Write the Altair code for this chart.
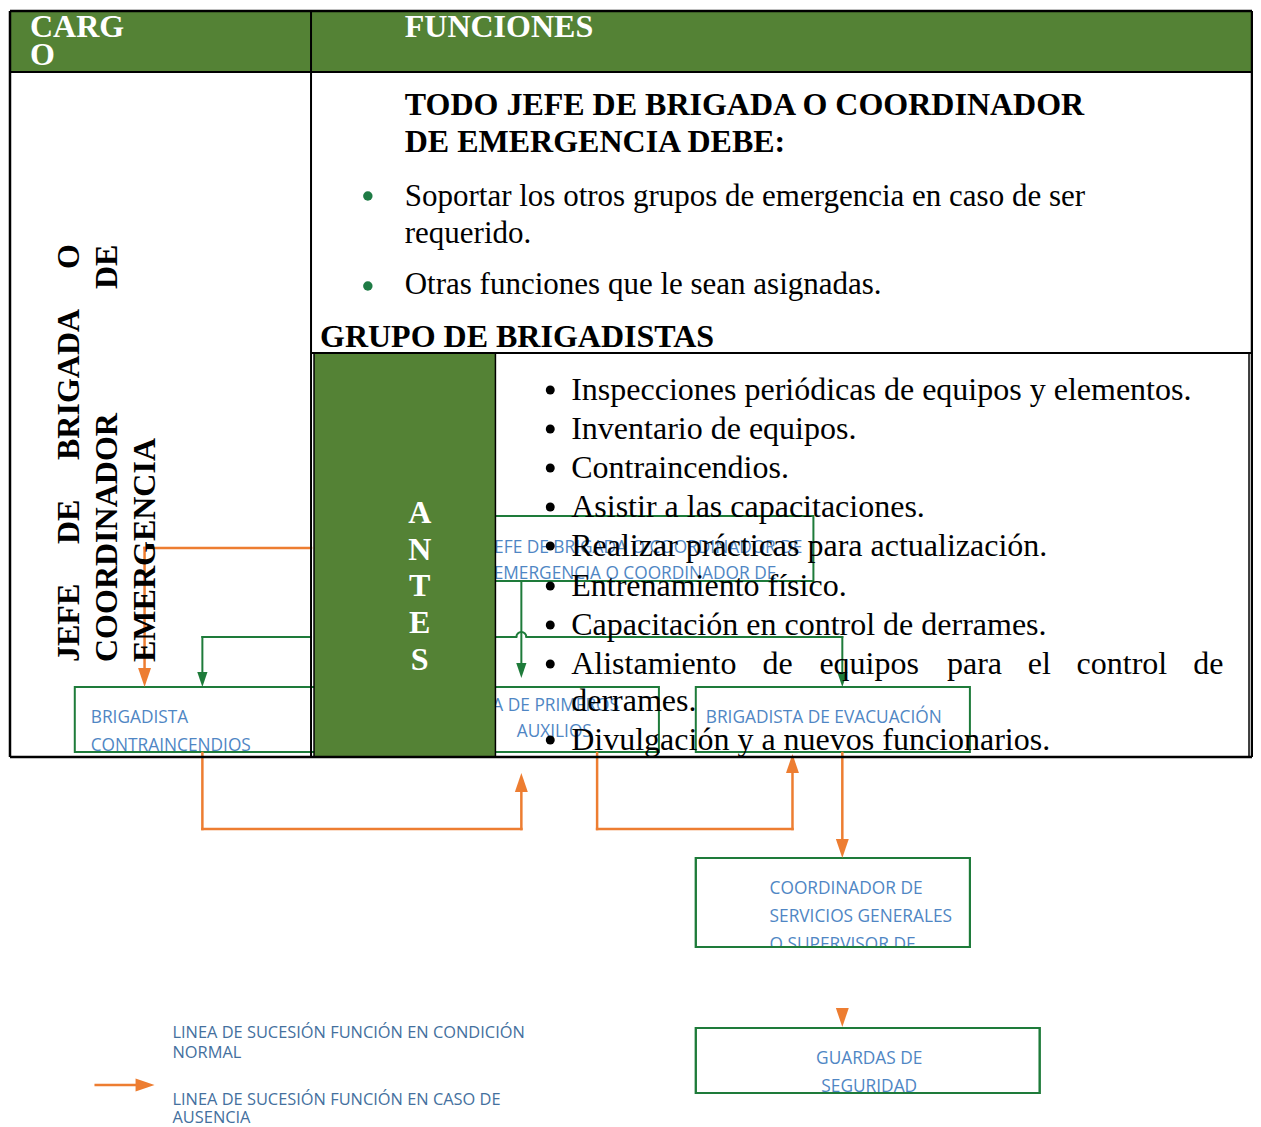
import altair as alt
import pandas as pd

# ---------------- text content ----------------
header_labels = ["CARG", "O", "FUNCIONES"]
jefe_title = ["TODO JEFE DE BRIGADA O COORDINADOR", "DE EMERGENCIA DEBE:"]
jefe_items = ["Soportar los otros grupos de emergencia en caso de ser",
              "requerido.",
              "Otras funciones que le sean asignadas."]
group_title = ["GRUPO DE BRIGADISTAS"]
antes_letters = ["A", "N", "T", "E", "S"]
antes_items = ["Inspecciones periódicas de equipos y elementos.",
               "Inventario de equipos.",
               "Contraincendios.",
               "Asistir a las capacitaciones.",
               "Realizar prácticas para actualización.",
               "Entrenamiento físico.",
               "Capacitación en control de derrames."]
antes_justified = ["Alistamiento", "de", "equipos", "para", "el", "control", "de"]
antes_tail = ["derrames.", "Divulgación y a nuevos funcionarios."]
cargo_words = [["JEFE", "DE", "BRIGADA", "O"], ["COORDINADOR", "DE"], ["EMERGENCIA"]]
box_labels = [
    ["JEFE DE BRIGADA O COORDINADOR DE", "EMERGENCIA O COORDINADOR DE"],
    ["BRIGADISTA", "CONTRAINCENDIOS"],
    ["BRIGADISTA DE PRIMEROS", "AUXILIOS"],
    ["BRIGADISTA DE EVACUACIÓN"],
    ["COORDINADOR DE", "SERVICIOS GENERALES", "O SUPERVISOR DE"],
    ["GUARDAS DE", "SEGURIDAD"],
]
legend_labels = ["LINEA DE SUCESIÓN FUNCIÓN EN CONDICIÓN", "NORMAL",
                 "LINEA DE SUCESIÓN FUNCIÓN EN CASO DE", "AUSENCIA"]

# ---------------- layout (page pixels) ----------------
header_pos = [(30, 37), (30, 65), (406, 37)]
jefe_title_pos = [(406, 115), (406, 152)]
jefe_items_pos = [(406, 206), (406, 243), (406, 294)]
green_bullet_y = [196, 286]
group_title_pos = [(321, 347)]
antes_letter_y = [523, 560, 596, 633, 670]
list_baselines = [400, 439, 478, 517, 556, 596, 635]
justified_x = [573, 765, 822, 950, 1031, 1080, 1197]
justified_y = 674
tail_pos = [(573, 711), (573, 750)]
cargo_x = [79, 117, 155]
cargo_bottoms = [[662, 544, 460, 269], [662, 289], [662]]

boxes = [  # x, x2, y, y2
    (485, 816, 516, 581),
    (75, 330, 687, 752),
    (440, 661, 687, 752),
    (698, 973, 687, 752),
    (698, 973, 858, 947),
    (698, 1043, 1028, 1093),
]
box_text_pos = [
    [(648, 553, "center"), (637, 579, "center")],
    [(91, 723, "left"), (91, 751, "left")],
    [(621, 711, "right"), (556, 737, "center")],
    [(708, 723, "left")],
    [(772, 894, "left"), (772, 922, "left"), (772, 950, "left")],
    [(872, 1064, "center"), (872, 1092, "center")],
]
legend_pos = [(173, 1038), (173, 1058), (173, 1105), (173, 1123)]

GREEN_FILL = "#548235"
LINE_GREEN = "#1e7b3a"
BULLET_GREEN = "#1e7b45"
ORANGE = "#ed7d31"
BOX_BLUE = "#4f86c4"
LEG_BLUE = "#44709e"
SERIF = "Liberation Serif"
SANS = "Open Sans"

W, H = 1245, 1119
OX, OY = 8, 8
XS = alt.Scale(domain=[OX, 1257], range=[0, W], nice=False, zero=False)
YS = alt.Scale(domain=[OY, OY + H], range=[0, H], nice=False, zero=False)


def X(f="x"):
    return alt.X(f"{f}:Q", scale=XS, axis=None)


def Y(f="y"):
    return alt.Y(f"{f}:Q", scale=YS, axis=None)


def rect_layer(rows):
    df = pd.DataFrame(rows, columns=["x", "x2", "y", "y2", "fill", "stroke", "sw"])
    return alt.Chart(df).mark_rect().encode(
        x=X("x"), x2=alt.X2("x2:Q"), y=Y("y"), y2=alt.Y2("y2:Q"),
        fill=alt.Fill("fill:N", scale=None),
        stroke=alt.Stroke("stroke:N", scale=None),
        strokeWidth=alt.StrokeWidth("sw:Q", scale=None),
    )


def rule_layer(rows, cap="square"):
    df = pd.DataFrame(rows, columns=["x", "y", "x2", "y2", "c", "w"])
    return alt.Chart(df).mark_rule(strokeCap=cap).encode(
        x=X("x"), x2=alt.X2("x2:Q"), y=Y("y"), y2=alt.Y2("y2:Q"),
        color=alt.Color("c:N", scale=None),
        strokeWidth=alt.StrokeWidth("w:Q", scale=None),
    )


def text_layer(rows, align="left", **props):
    df = pd.DataFrame(rows, columns=["x", "y", "t"])
    return alt.Chart(df).mark_text(align=align, baseline="alphabetic", **props).encode(
        x=X("x"), y=Y("y"), text="t:N"
    )


ARROW = "M-0.68,-1L0.68,-1L0,1Z"


def arrow_layer(rows):
    # rows: tip_x, tip_y, direction, color, length
    recs = []
    for tx, ty, d, c, ln in rows:
        dx, dy, a = {"down": (0, 1, 0), "up": (0, -1, 180), "right": (1, 0, 270)}[d]
        recs.append({"x": tx - dx * ln / 2, "y": ty - dy * ln / 2, "a": a,
                     "c": c, "s": ln * ln, "p": ARROW})
    df = pd.DataFrame(recs)
    return alt.Chart(df).mark_point(filled=True, opacity=1, strokeWidth=0).encode(
        x=X(), y=Y(),
        shape=alt.Shape("p:N", scale=None),
        angle=alt.Angle("a:Q", scale=None),
        size=alt.Size("s:Q", scale=None),
        color=alt.Color("c:N", scale=None),
    )


layers = []

# 1. flowchart boxes
layers.append(rect_layer([(b[0], b[1], b[2], b[3], "white", LINE_GREEN, 2) for b in boxes]))

# 2. box labels
box_font = dict(font=SANS, fontSize=17.3, color=BOX_BLUE)
by_align = {"left": [], "center": [], "right": []}
for labels, poss in zip(box_labels, box_text_pos):
    for t, (x, y, al) in zip(labels, poss):
        by_align[al].append((x, y, t))
for al, rows in by_align.items():
    if rows:
        layers.append(text_layer(rows, align=al, **box_font))

# 3. masks where the box borders cut the labels
layers.append(rect_layer([
    (boxes[4][0] - 1, boxes[4][1] + 1, boxes[4][3] + 1, boxes[4][3] + 16, "white", "white", 0),
    (boxes[5][0] - 1, boxes[5][1] + 1, boxes[5][3] + 1, boxes[5][3] + 8, "white", "white", 0),
]))
layers.append(rect_layer([(b[0], b[1], b[2], b[3], "transparent", LINE_GREEN, 2)
                          for b in boxes[4:]]))

# 4. connectors
orange_segments = [
    (145, 548, 312, 548), (145, 548, 145, 670),
    (203, 753, 203, 829), (203, 829, 523, 829), (523, 829, 523, 790),
    (599, 753, 599, 829), (599, 829, 795, 829), (795, 829, 795, 771),
    (845, 753, 845, 840),
    (96, 1085, 138, 1085),
]
green_segments = [
    (203, 637, 312, 637), (203, 637, 203, 673),
    (497, 637, 518, 637), (528, 637, 845, 637), (845, 637, 845, 673),
    (523, 582, 523, 664),
]
layers.append(rule_layer([s + (ORANGE, 2.5) for s in orange_segments]))
layers.append(rule_layer([s + (LINE_GREEN, 2) for s in green_segments]))
layers.append(
    alt.Chart(pd.DataFrame({"x": [523], "y": [637]}))
    .mark_arc(radius=5, radius2=5, theta=4.712, theta2=7.854,
              fillOpacity=0, stroke=LINE_GREEN, strokeWidth=2)
    .encode(x=X(), y=Y())
)
layers.append(arrow_layer([
    (145, 687, "down", ORANGE, 19),
    (523, 773, "up", ORANGE, 19),
    (795, 754, "up", ORANGE, 19),
    (845, 858, "down", ORANGE, 19),
    (845, 1027, "down", ORANGE, 19),
    (155, 1085, "right", ORANGE, 19),
    (203, 687, "down", LINE_GREEN, 15),
    (845, 687, "down", LINE_GREEN, 15),
    (523, 678, "down", LINE_GREEN, 15),
]))

# 5. table fills
layers.append(rect_layer([
    (10, 1256, 11, 72, GREEN_FILL, GREEN_FILL, 0),
    (315, 497, 354, 757, GREEN_FILL, GREEN_FILL, 0),
]))

# 6. table lines
layers.append(rule_layer([
    (10, 11, 1256, 11, "black", 2.5),
    (10, 72, 1256, 72, "black", 2),
    (10, 757, 1256, 757, "black", 2.5),
    (10, 11, 10, 757, "black", 2.5),
    (1256, 11, 1256, 757, "black", 2.5),
    (312, 11, 312, 757, "black", 2),
    (312, 353, 1256, 353, "black", 2),
    (315, 354, 315, 757, "black", 1.5),
    (1253, 354, 1253, 757, "black", 1.5),
    (497, 354, 497, 757, "black", 1.5),
], cap="butt"))

# 7. table text
layers.append(text_layer([(p[0], p[1], t) for p, t in zip(header_pos, header_labels)],
                         font=SERIF, fontSize=32, fontWeight="bold", color="white"))
layers.append(text_layer([(p[0], p[1], t) for p, t in zip(jefe_title_pos + group_title_pos,
                                                          jefe_title + group_title)],
                         font=SERIF, fontSize=32, fontWeight="bold", color="black"))
layers.append(text_layer([(p[0], p[1], t) for p, t in zip(jefe_items_pos, jefe_items)],
                         font=SERIF, fontSize=31, color="black"))
list_rows = [(573, y, t) for y, t in zip(list_baselines, antes_items)]
list_rows += [(x, justified_y, t) for x, t in zip(justified_x, antes_justified)]
list_rows += [(p[0], p[1], t) for p, t in zip(tail_pos, antes_tail)]
layers.append(text_layer(list_rows, font=SERIF, fontSize=32, color="black"))
rot_rows = []
for x, words, bottoms in zip(cargo_x, cargo_words, cargo_bottoms):
    for w, b in zip(words, bottoms):
        rot_rows.append((x, b, w))
layers.append(text_layer(rot_rows, font=SERIF, fontSize=32, fontWeight="bold",
                         color="black", angle=270))
layers.append(text_layer([(421, y, t) for y, t in zip(antes_letter_y, antes_letters)],
                         align="center", font=SERIF, fontSize=32, fontWeight="bold",
                         color="white"))

# bullets
bullet_y = list_baselines + [justified_y, tail_pos[1][1]]
bullets = pd.DataFrame(
    [{"x": 552, "y": y - 10, "c": "black", "s": 80} for y in bullet_y]
    + [{"x": 369, "y": y, "c": BULLET_GREEN, "s": 90} for y in green_bullet_y]
)
layers.append(alt.Chart(bullets).mark_circle(opacity=1).encode(
    x=X(), y=Y(), color=alt.Color("c:N", scale=None), size=alt.Size("s:Q", scale=None)))

# 8. legend
layers.append(text_layer([(p[0], p[1], t) for p, t in zip(legend_pos, legend_labels)],
                         font=SANS, fontSize=16.4, color=LEG_BLUE))

chart = alt.layer(*layers).properties(
    width=W, height=H, padding=0, autosize="none", background="white"
).configure_view(strokeWidth=0)

chart.save("out.html", embed_options={"renderer": "svg", "actions": False})
